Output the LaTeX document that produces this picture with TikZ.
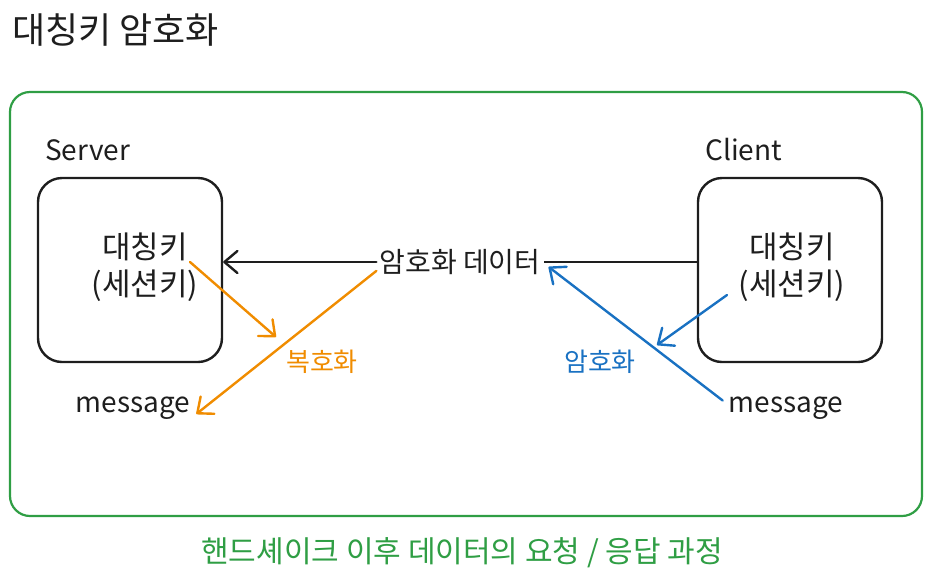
\documentclass[tikz,border=0pt]{standalone}
\usepackage{fontspec}
\setmainfont{Noto Sans CJK KR}
\usetikzlibrary{arrows.meta}
\definecolor{inkblack}{HTML}{1E1E1E}
\definecolor{inkgreen}{HTML}{2F9E44}
\definecolor{inkorange}{HTML}{F08C00}
\definecolor{inkblue}{HTML}{1971C2}
\tikzstyle{keybox} = [rectangle, rounded corners=24pt, minimum width=184pt, minimum height=184pt,
    draw=inkblack, line width=2.4pt]
\tikzstyle{groupbox} = [rectangle, rounded corners=20pt, minimum width=912pt, minimum height=424pt,
    draw=inkgreen, line width=2.2pt]
\tikzstyle{txt} = [font=\fontsize{28}{37}\selectfont, text=inkblack, align=center, inner sep=0pt]
\tikzstyle{keytxt} = [txt, font=\fontsize{31}{37}\selectfont]
\tikzstyle{steptxt} = [txt, font=\fontsize{26}{30}\selectfont]
\tikzstyle{arrow} = [line width=2.4pt, line cap=round, -{Straight Barb[length=13pt, width=22pt, round]}]

\begin{document}
\begin{tikzpicture}[x=1pt, y=-1pt]
                \useasboundingbox (0,0) rectangle (933,584);
                \node (title) [txt, anchor=west, font=\fontsize{36}{40}\selectfont] at (12,30) {대칭키 암호화};
                \node (frame) [groupbox] at (466,304) {};

                \node (serverlbl) [txt, anchor=west] at (45,150) {Server};
                \node (server) [keybox] at (130,270) {};
                \node (skey) [keytxt] at (145,267) {대칭키\\(세션키)};
                \node (clientlbl) [txt, anchor=west] at (705,150) {Client};
                \node (client) [keybox] at (790,270) {};
                \node (ckey) [keytxt] at (792,267) {대칭키\\(세션키)};

                \node (data) [txt] at (460,262) {암호화 데이터};
                \node (lmsg) [txt] at (133,408) {message};
                \node (rmsg) [txt] at (786,408) {message};
                \node (dec) [steptxt, text=inkorange] at (322,362) {복호화};
                \node (enc) [steptxt, text=inkblue] at (600,362) {암호화};
                \coordinate (skeyout) at (190,262);
                \coordinate (skeyin) at (276,337);
                \coordinate (ckeyout) at (727,295);
                \coordinate (ckeyin) at (657,345);

                \draw [line width=2.4pt, inkblack] (client.west |- data.east) -- ([xshift=3pt]data.east);
                \draw [arrow, inkblack] ([xshift=-3pt]data.west) -- (data.west -| server.east);
                \draw [arrow, inkorange] (skeyout) -- (skeyin);
                \draw [arrow, inkorange] ([xshift=-3pt, yshift=4pt]data.south west) -- ([xshift=6pt, yshift=-6pt]lmsg.east);
                \draw [arrow, inkblue] (ckeyout) -- (ckeyin);
                \draw [arrow, inkblue] ([xshift=-6pt, yshift=-4pt]rmsg.north west) -- ([xshift=8pt, yshift=8pt]data.south east);

                \node (caption) [txt, text=inkgreen, font=\fontsize{30}{34}\selectfont] at (462,553) {핸드셰이크 이후 데이터의 요청 / 응답 과정};
            \end{tikzpicture}
\end{document}
